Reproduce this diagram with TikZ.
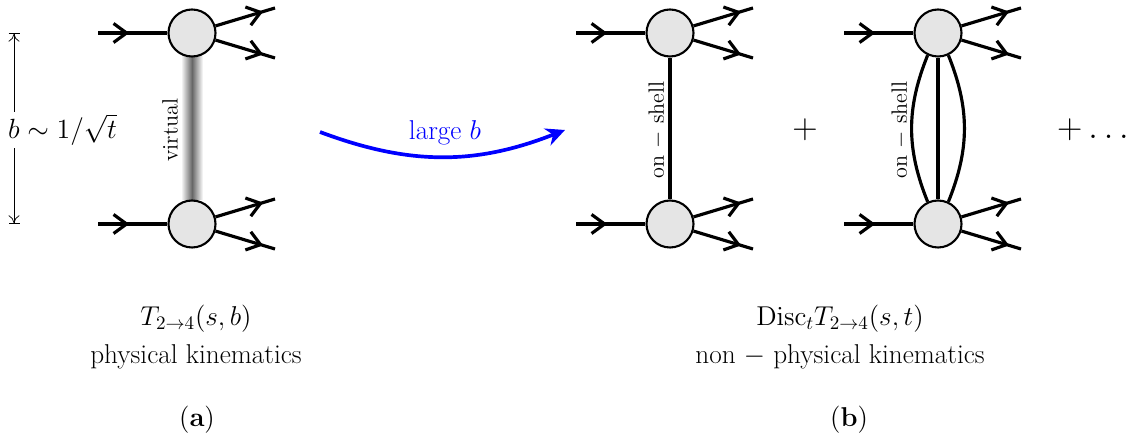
\RequirePackage{fix-cm}
\documentclass[tikz,border=0pt]{standalone}
\usepackage{amsmath}
\usetikzlibrary{arrows.meta,decorations.markings,calc}
\tikzset{
  blob/.style={circle,draw,fill=black!10,line width=1.2pt,minimum size=0.94cm,inner sep=0pt},
  prop/.style={line width=1.8pt},
  legin/.style={prop,postaction={decorate},decoration={markings,
    mark=at position 0.45 with {\arrow{Straight Barb[length=2.6mm,width=3.8mm]}}}},
  legout/.style={prop,postaction={decorate},decoration={markings,
    mark=at position 0.8 with {\arrow{Straight Barb[length=2.6mm,width=3.8mm]}}}},
  dimline/.style={line width=0.4pt,{Bar[width=2.2mm].To[length=1.6mm,width=2.2mm]}-{To[length=1.6mm,width=2.2mm].Bar[width=2.2mm]}},
  bigtext/.style={font=\fontsize{15.5}{21.6}\selectfont},
  sidetext/.style={font=\fontsize{12.6}{15}\selectfont},
}

\begin{document}
\begin{tikzpicture}
  %%%%% START %%%%%
  \useasboundingbox (0,0) rectangle (22.72,8.7);

  % (a) virtual exchange
  \shade[left color=white,right color=white,middle color=black!60] (3.62,7.56) rectangle (4.06,4.7);
  \node[blob] (aT) at (3.84,8.04) {};
  \node[blob] (aB) at (3.84,4.22) {};
  \node[rotate=90,sidetext] (virt) at (3.4,6.1) {virtual};

  \coordinate (dimT) at (0.28,8.04);
  \coordinate (dimB) at (0.28,4.22);
  \draw[dimline] (dimT) -- (dimB);
  \node[fill=white,font=\fontsize{15.8}{20}\selectfont,inner sep=1pt] (bsize) at (1.25,6.1) {$b\sim 1/\sqrt{t}$};

  % large b arrow
  \coordinate (arrS) at (6.4,6.06);
  \coordinate (arrE) at (11.3,6.1);
  \draw[blue,line width=2.1pt,-{Stealth[length=3.8mm,width=3.6mm]}] (arrS) to[bend right=21] (arrE);
  \node[blue,bigtext] (large) at (8.9,6.04) {large $b$};

  % (b) on-shell cuts
  \node[blob] (bT) at (13.4,8.04) {};
  \node[blob] (bB) at (13.4,4.22) {};
  \draw[prop] (bT) -- (bB);
  \node[rotate=90,sidetext] (osA) at (13.14,6.1) {on $-$ shell};

  \node[font=\fontsize{20}{24}\selectfont] (plus) at (16.1,6.1) {$+$};

  \node[blob] (cT) at (18.76,8.04) {};
  \node[blob] (cB) at (18.76,4.22) {};
  \draw[prop] (cT) -- (cB);
  \draw[prop] (cT.-115) to[out=-112,in=112] (cB.115);
  \draw[prop] (cT.-65) to[out=-68,in=68] (cB.65);
  \node[rotate=90,sidetext] (osB) at (18.0,6.1) {on $-$ shell};

  \node[font=\fontsize{20}{24}\selectfont] (dots) at (21.86,6.1) {$+\ldots$};

  % external legs
  \foreach \v in {aT,aB,bT,bB,cT,cB}{
    \coordinate (\v-in) at ($(\v)+(-1.88,0)$);
    \coordinate (\v-up) at ($(\v)+(1.66,0.5)$);
    \coordinate (\v-dn) at ($(\v)+(1.66,-0.5)$);
    \draw[legin] (\v-in) -- (\v);
    \draw[legout] (\v) -- (\v-up);
    \draw[legout] (\v) -- (\v-dn);
  }

  % captions
  \node[align=center,bigtext] (capA) at (3.92,1.96) {$T_{2\to 4}(s,b)$\\physical kinematics};
  \node[bigtext] (labA) at (3.94,0.3) {$(\mathbf{a})$};
  \node[align=center,bigtext] (capB) at (16.8,1.96) {$\mathrm{Disc}_t T_{2\to 4}(s,t)$\\non $-$ physical kinematics};
  \node[bigtext] (labB) at (16.98,0.3) {$(\mathbf{b})$};
  %%%%% END %%%%%
\end{tikzpicture}
\end{document}
